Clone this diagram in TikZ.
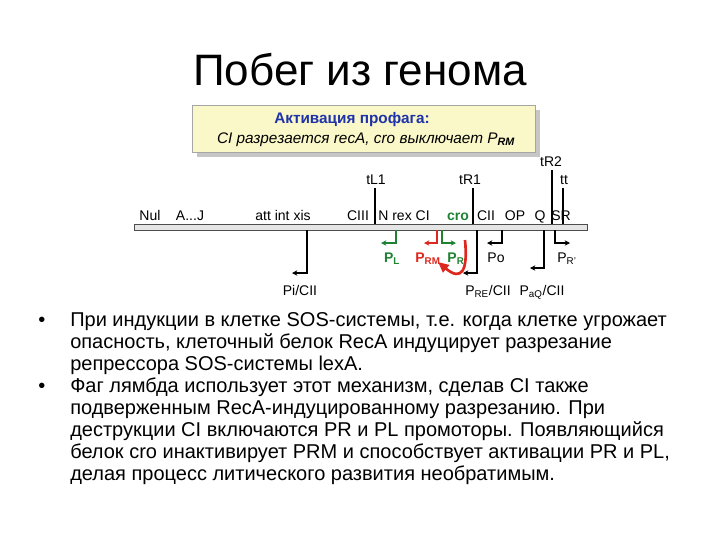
\documentclass[tikz,border=0pt]{standalone}
\usepackage{fontspec}
\setmainfont{Liberation Sans}
\usetikzlibrary{arrows.meta}
\definecolor{gr}{RGB}{30,130,50}
\definecolor{rd}{RGB}{220,40,30}
\definecolor{bx}{RGB}{250,248,200}
\definecolor{bl}{RGB}{30,50,170}
\begin{document}
\begin{tikzpicture}[x=0.75pt,y=-0.75pt,
 lab/.style={font=\fontsize{10.5}{11}\selectfont,inner sep=0pt,anchor=base},
 blab/.style={lab,font=\bfseries\fontsize{10.5}{11}\selectfont},
 tick/.style={line width=1.2pt},
 prom/.style={line width=1.1pt,-{Stealth[length=4pt,width=4pt]}},
 bul/.style={font=\fontsize{15}{18}\selectfont,anchor=base west,inner sep=0pt}]
\useasboundingbox (0,0) rectangle (720,540);
\node (title) at (360,70) {\fontsize{33}{35}\selectfont Побег из генома};
% box
\fill[gray!45] (197,110) rectangle (540,157);
\draw[gray!70,fill=bx] (192,105) rectangle (535,152);
\node[lab,font=\bfseries\fontsize{11.5}{12}\selectfont,text=bl] (bt) at (352,123) {Активация профага:};
\node[lab,font=\itshape\fontsize{11.5}{12}\selectfont] (bt2) at (366,143) {CI разрезается recA, cro выключает P\textsubscript{\textbf{RM}}};
% bar
\draw[gray!60!black,fill=gray!20] (134,224) rectangle (587,230);
\node[lab] at (150,220) {Nul};
\node[lab] at (190,220) {A...J};
\node[lab] at (283,220) {att int xis};
\node[lab] at (358,220) {CIII};
\node[lab] at (404,220) {N rex CI};
\node[blab,text=gr] at (458,220) {cro};
\node[lab] at (486,220) {CII};
\node[lab] at (515,220) {OP};
\node[lab] at (540,220) {Q};
\node[lab] at (561,220) {SR};
% terminators
\draw[tick] (375,188) -- (375,224); \node[lab] (tl1) at (376,184) {tL1};
\draw[tick] (473,188) -- (473,224); \node[lab] (tr1) at (470,184) {tR1};
\draw[tick] (552,170) -- (552,224); \node[lab] (tr2) at (551,166) {tR2};
\draw[tick] (563,188) -- (563,224); \node[lab] (tt) at (564,184) {tt};
% promoters
\draw[prom] (307,230) -- (307,273) -- (292,273); \node[lab] at (300,295) {Pi/CII};
\draw[prom,gr] (396,230) -- (396,243) -- (381,243); \node[blab,text=gr] at (392,262) {P\textsubscript{L}};
\draw[prom,rd] (437,230) -- (437,243) -- (424,243); \node[blab,text=rd] at (428,262) {P\textsubscript{RM}};
\draw[prom,gr] (442,230) -- (442,243) -- (456,243); \node[blab,text=gr] at (456,262) {P\textsubscript{R}};
\draw[prom] (477,230) -- (477,273) -- (463,273); \node[lab] at (488,295) {P\textsubscript{RE}/CII};
\draw[prom] (502,230) -- (502,243) -- (487,243); \node[lab] at (496,262) {Po};
\draw[prom] (544,230) -- (544,268) -- (530,268); \node[lab] at (542,295) {P\textsubscript{aQ}/CII};
\draw[prom] (555,230) -- (555,243) -- (570,243); \node[lab] at (567,262) {P\textsubscript{R'}};
% red curved arrow
\draw[rd,line width=2pt,-{Triangle[length=8pt,width=7pt]}] (465,240) .. controls (468,270) and (462,282) .. (438,262);
% bullets
\foreach \y/\t in {326/{При индукции в клетке SOS-системы, т.е. когда клетке угрожает},
 348/{опасность, клеточный белок RecA индуцирует разрезание},
 370/{репрессора SOS-системы lexA.},
 392/{Фаг лямбда использует этот механизм, сделав CI также},
 414/{подверженным RecA-индуцированному разрезанию. При},
 436/{деструкции CI включаются PR и PL промоторы. Появляющийся},
 458/{белок cro инактивирует PRM и способствует активации PR и PL,},
 480/{делая процесс литического развития необратимым.}}
 \node[bul] at (70,\y) {\t};
\node[bul] (b1) at (38,326) {•};
\node[bul] (b2) at (38,392) {•};
\end{tikzpicture}
\end{document}
